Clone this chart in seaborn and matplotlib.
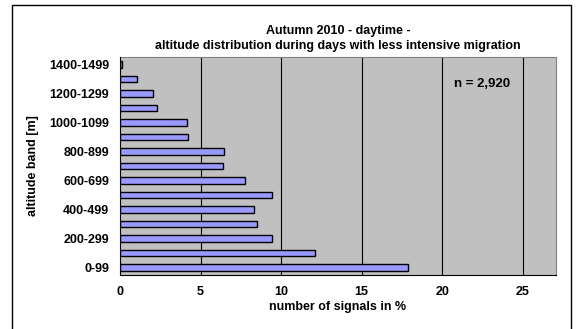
import numpy as np
import pandas as pd
import matplotlib.pyplot as plt
import seaborn as sns
from matplotlib.patches import Rectangle

# altitude bands, bottom to top
bands = ['0-99', '100-199', '200-299', '300-399', '400-499', '500-599', '600-699',
         '700-799', '800-899', '900-999', '1000-1099', '1100-1199', '1200-1299',
         '1300-1399', '1400-1499']
share = [17.87, 12.13, 9.42, 8.49, 8.34, 9.42, 7.76, 6.38, 6.48, 4.24, 4.18,
         2.30, 2.03, 1.07, 0.15]
x_ticks = [0, 5, 10, 15, 20, 25]

df = pd.DataFrame({'band': bands, 'share': share})

sns.set_style('white')
plt.rcParams['font.family'] = ['Liberation Sans', 'DejaVu Sans']
plt.rcParams['font.weight'] = 'bold'
plt.rcParams['text.color'] = 'black'
plt.rcParams['axes.labelcolor'] = 'black'
plt.rcParams['xtick.color'] = 'black'
plt.rcParams['ytick.color'] = 'black'

fs = 9

fig = plt.figure(figsize=(5.76, 3.29), dpi=100)
ax = fig.add_axes([120 / 576, 1 - 275 / 329, 436 / 576, 218 / 329])
ax.set_facecolor('#c0c0c0')

sns.barplot(x='share', y='band', data=df, order=bands[::-1], orient='h',
            color='#9999ff', edgecolor='black', linewidth=1.0, width=0.45,
            saturation=1, ax=ax, zorder=3)
for p in ax.patches:
    p.set_zorder(3)

ax.set_xlim(0, 27.06)
ax.set_ylim(len(bands) - 0.5, -0.5)
ax.set_xticks(x_ticks)
ax.set_xticklabels([str(t) for t in x_ticks], fontsize=fs, fontweight='bold')
for t in x_ticks[1:]:
    ax.axvline(t, color='black', linewidth=0.8, zorder=1)

# label every other band, ticks sit between categories
labels = [b if i % 2 == 0 else '' for i, b in enumerate(bands)][::-1]
ax.set_yticks(range(len(bands)))
ax.set_yticklabels(labels, fontsize=fs, fontweight='bold')
ax.set_yticks(np.arange(-0.5, len(bands), 1.0), minor=True)
ax.tick_params(axis='y', which='major', length=0, pad=8)
ax.tick_params(axis='y', which='minor', length=4, width=0.8, color='black', direction='out')
ax.tick_params(axis='x', which='major', length=4, width=0.8, color='black', direction='out', pad=4)

for side in ['top', 'right']:
    ax.spines[side].set_color('#808080')
    ax.spines[side].set_linewidth(0.8)
for side in ['left', 'bottom']:
    ax.spines[side].set_color('black')
    ax.spines[side].set_linewidth(0.8)
    ax.spines[side].set_zorder(4)

ax.set_xlabel('number of signals in %', fontsize=fs, fontweight='bold', labelpad=2)
ax.set_ylabel('altitude band [m]', fontsize=fs, fontweight='bold', labelpad=7)
ax.set_title('Autumn 2010 - daytime -\naltitude distribution during days with less intensive migration',
             fontsize=fs, fontweight='bold', pad=6, linespacing=1.3)

ax.text(22.5, 0.876, 'n = 2,920', transform=ax.get_xaxis_transform(),
        ha='center', va='center', fontsize=fs + 0.5, fontweight='bold')

# outer chart frame
fig.patches.append(Rectangle((12 / 576, -0.05), 559 / 576, 1 - 5 / 329 + 0.05,
                             transform=fig.transFigure, fill=False,
                             edgecolor='black', linewidth=1.0))

fig.savefig('out.png', dpi=100)
